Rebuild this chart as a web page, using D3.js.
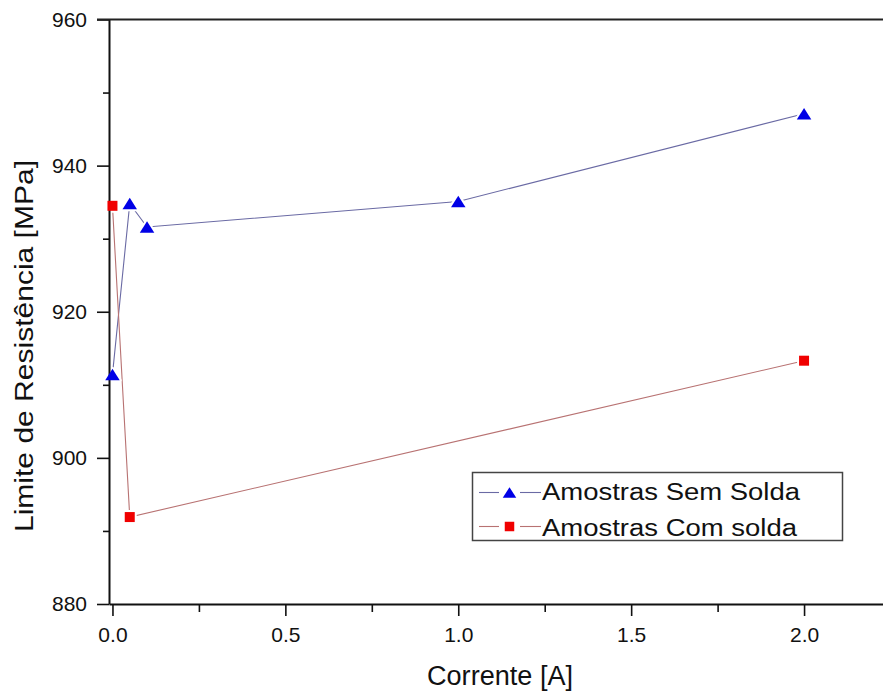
<!DOCTYPE html>
<html>
<head>
<meta charset="utf-8">
<script src="https://cdn.jsdelivr.net/npm/d3@7"></script>
<style>
  html, body { margin: 0; padding: 0; background: #fff; }
  svg { display: block; font-family: "Liberation Sans", Arial, sans-serif; }
</style>
</head>
<body>
<svg id="chart" width="883" height="695"></svg>
<script>
// Corrente [A] vs limite de resistência [MPa]
const currentSem = [0, 0.05, 0.1, 1.0, 2.0];
const semSolda   = [911.4, 934.8, 931.6, 935.1, 947.1];
const currentCom = [0, 0.05, 2.0];
const comSolda   = [934.5, 891.9, 913.3];

const xMajorTicks = [0, 0.5, 1.0, 1.5, 2.0];
const xMinorTicks = [0.25, 0.75, 1.25, 1.75];
const yMajorTicks = [880, 900, 920, 940, 960];
const yMinorTicks = [890, 910, 930, 950];

const seriesNames = ["Amostras Sem Solda", "Amostras Com solda"];

const svg = d3.select("#chart");
const plotLeft = 109, plotTop = 19.5, plotBottom = 604;

const x = d3.scaleLinear().domain([-0.01, 2.25]).range([plotLeft, plotLeft + 2.26 * 345.8]);
const y = d3.scaleLinear().domain([880, 960]).range([plotBottom, plotTop]);

const blueSeries = currentSem.map((c, i) => ({ x: c, y: semSolda[i] }));
const redSeries  = currentCom.map((c, i) => ({ x: c, y: comSolda[i] }));

const lineGen = d3.line().x(d => x(d.x)).y(d => y(d.y));

const blueLine = "#6a6aa4", redLine = "#b87272";
const blueMark = "#0000e6", redMark = "#f00000";

// triangle centred on its bounding box
function triPath(cx, cy, w, h) {
  return `M${cx},${cy - h / 2}L${cx + w / 2},${cy + h / 2}L${cx - w / 2},${cy + h / 2}Z`;
}
function sqPath(cx, cy, s) {
  return `M${cx - s / 2},${cy - s / 2}h${s}v${s}h${-s}Z`;
}

// connecting lines
svg.append("path").datum(blueSeries).attr("d", lineGen)
  .attr("fill", "none").attr("stroke", blueLine).attr("stroke-width", 1.1);
svg.append("path").datum(redSeries).attr("d", lineGen)
  .attr("fill", "none").attr("stroke", redLine).attr("stroke-width", 1.1);

// white gap around each symbol
const halo = svg.append("g");
halo.selectAll(".hb").data(blueSeries).join("path")
  .attr("d", d => triPath(x(d.x), y(d.y), 14.5, 11.5))
  .attr("fill", "#fff").attr("stroke", "#fff").attr("stroke-width", 4).attr("stroke-linejoin", "round");
halo.selectAll(".hr").data(redSeries).join("path")
  .attr("d", d => sqPath(x(d.x), y(d.y), 10))
  .attr("fill", "#fff").attr("stroke", "#fff").attr("stroke-width", 4);

// axes
const axisColor = "#111";
const xAxis = svg.append("g").attr("transform", `translate(0,${plotBottom})`)
  .call(d3.axisBottom(x).tickValues(xMajorTicks).tickSize(12).tickSizeOuter(0)
    .tickFormat(d3.format(".1f")));
const xMinor = svg.append("g").attr("transform", `translate(0,${plotBottom})`)
  .call(d3.axisBottom(x).tickValues(xMinorTicks).tickSize(8).tickSizeOuter(0).tickFormat(""));
const yAxis = svg.append("g").attr("transform", `translate(${plotLeft},0)`)
  .call(d3.axisLeft(y).tickValues(yMajorTicks).tickSize(12).tickSizeOuter(0).tickPadding(10));
const yMinor = svg.append("g").attr("transform", `translate(${plotLeft},0)`)
  .call(d3.axisLeft(y).tickValues(yMinorTicks).tickSize(6).tickSizeOuter(0).tickFormat(""));

[xAxis, xMinor, yAxis, yMinor].forEach(g => {
  g.select(".domain").attr("stroke", axisColor).attr("stroke-width", 2);
  g.selectAll(".tick line").attr("stroke", axisColor).attr("stroke-width", 1.6);
});
xMinor.select(".domain").remove();
yMinor.select(".domain").remove();
xAxis.selectAll(".tick text")
  .attr("font-size", 21).attr("fill", "#111").attr("dy", "0.71em").attr("y", 23.5)
  .attr("font-family", "Liberation Sans, Arial, sans-serif");
yAxis.selectAll(".tick text")
  .attr("font-size", 21).attr("fill", "#111")
  .attr("font-family", "Liberation Sans, Arial, sans-serif");

// top frame line
svg.append("line").attr("x1", plotLeft - 12).attr("x2", 883).attr("y1", plotTop).attr("y2", plotTop)
  .attr("stroke", "#222").attr("stroke-width", 2);

// symbols
svg.append("g").selectAll("path").data(blueSeries).join("path")
  .attr("d", d => triPath(x(d.x), y(d.y), 14.5, 11.5)).attr("fill", blueMark);
svg.append("g").selectAll("path").data(redSeries).join("path")
  .attr("d", d => sqPath(x(d.x), y(d.y), 10)).attr("fill", redMark);

// axis titles
svg.append("text").attr("x", 500).attr("y", 685).attr("text-anchor", "middle")
  .attr("font-size", 27).attr("fill", "#111")
  .attr("textLength", 146).attr("lengthAdjust", "spacingAndGlyphs").text("Corrente [A]");
svg.append("text").attr("transform", "translate(33,346) rotate(-90)")
  .attr("text-anchor", "middle").attr("font-size", 26).attr("fill", "#111")
  .attr("textLength", 372).attr("lengthAdjust", "spacingAndGlyphs")
  .text("Limite de Resistência [MPa]");

// legend
const lg = svg.append("g");
lg.append("rect").attr("x", 472.5).attr("y", 472.5).attr("width", 370).attr("height", 68)
  .attr("fill", "#fff").attr("stroke", "#444").attr("stroke-width", 1.5);
const rows = [
  { name: seriesNames[0], line: blueLine, mark: blueMark, tri: true, cy: 492.5, base: 500, len: 258 },
  { name: seriesNames[1], line: redLine, mark: redMark, tri: false, cy: 526.5, base: 535.5, len: 255 }
];
rows.forEach(r => {
  lg.append("line").attr("x1", 479).attr("x2", 499).attr("y1", r.cy).attr("y2", r.cy)
    .attr("stroke", r.line).attr("stroke-width", 1.1);
  lg.append("line").attr("x1", 520).attr("x2", 541).attr("y1", r.cy).attr("y2", r.cy)
    .attr("stroke", r.line).attr("stroke-width", 1.1);
  lg.append("path").attr("d", r.tri ? triPath(509.5, r.cy, 13.5, 10.5) : sqPath(509.5, r.cy, 9.5))
    .attr("fill", r.mark);
  lg.append("text").attr("x", 542).attr("y", r.base).attr("font-size", 23.5).attr("fill", "#111")
    .attr("textLength", r.len).attr("lengthAdjust", "spacingAndGlyphs").text(r.name);
});
</script>
</body>
</html>
